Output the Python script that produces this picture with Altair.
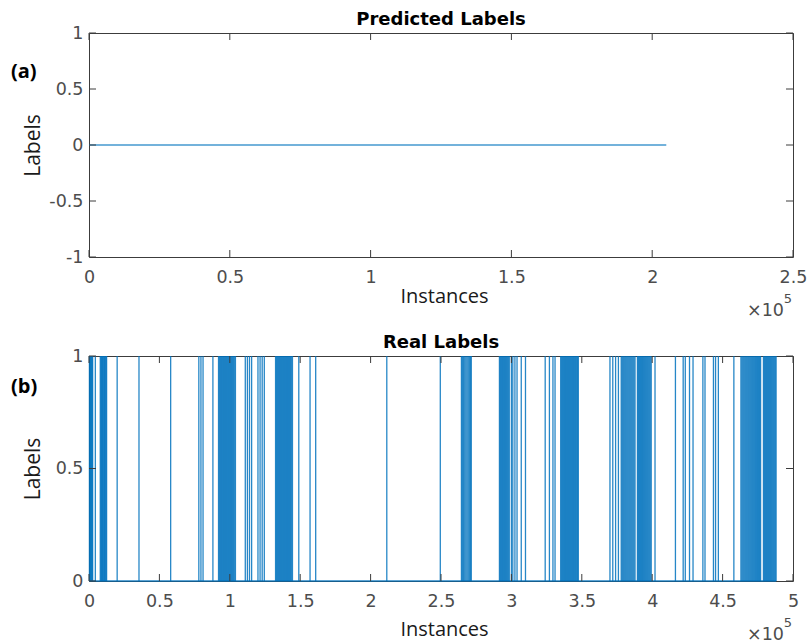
import altair as alt
import pandas as pd

# ---------------- data (x in thousands of instances) ----------------
pred_x = [0, 205]
pred_y = [0, 0]

real_spikes = [
    0.3, 0.8, 1.2, 1.7, 2.2, 2.6, 4.5,
    8.0, 8.5, 9.0, 9.5, 10.0, 10.5, 11.0, 11.5, 12.0, 12.5,
    20.0, 35.5, 58.0, 78.0, 79.5, 81.0, 88.0,
    92.0, 92.7, 93.4, 94.1, 94.8, 95.5, 96.2, 96.9, 97.6, 98.3, 99.0,
    99.7, 100.4, 101.1, 101.8, 102.5, 103.2, 104.0,
    111.0, 112.5, 114.0, 115.5, 120.0, 121.5, 123.0, 124.5,
    132.5, 133.2, 133.9, 134.6, 135.3, 136.0, 136.7, 137.4, 138.1, 138.8,
    139.5, 140.2, 140.9, 141.6, 142.3, 143.0, 143.7, 144.5,
    149.0, 157.0, 161.0,
    211.5, 249.5,
    264.5, 265.3, 266.1, 266.9, 267.7, 268.5, 269.3, 270.1, 270.9, 271.5,
    291.5, 292.2, 292.9, 293.6, 294.3, 295.0, 295.7, 296.4, 297.1, 297.8, 298.5,
    300.0, 301.0, 302.5, 304.0, 307.0, 310.0,
    324.0, 327.0, 329.5, 331.0,
    335.0, 335.7, 336.4, 337.1, 337.8, 338.5, 339.2, 339.9, 340.6, 341.3,
    342.0, 342.7, 343.4, 344.1, 344.8, 345.5, 346.2, 347.0, 347.5,
    370.0, 372.0, 374.0, 376.0,
    378.0, 378.7, 379.4, 380.1, 380.8, 381.5, 382.2, 382.9, 383.6, 384.3,
    385.0, 385.7, 386.4, 387.1, 387.8,
    389.5, 390.2, 390.9, 391.6, 392.3, 393.0, 393.7, 394.4, 395.1, 395.8,
    396.5, 397.2, 397.9, 398.6, 399.3,
    402.0, 416.5, 422.0, 423.5, 426.5, 429.0, 436.0, 437.5,
    443.5, 445.0, 447.0, 458.0,
    463.0, 463.7, 464.4, 465.1, 465.8, 466.5, 467.2, 467.9, 468.6, 469.3,
    470.0, 470.7, 471.4, 472.1, 472.8, 473.5, 474.2, 474.9, 475.6, 476.3, 477.0,
    479.0, 479.7, 480.4, 481.1, 481.8, 482.5, 483.2, 483.9, 484.6, 485.3,
    486.0, 486.7, 487.4, 488.0,
]
real_base_x = [0, 488]
real_base_y = [0, 0]

top_xticks = [0, 50, 100, 150, 200, 250]
top_yticks = [-1, -0.5, 0, 0.5, 1]
bot_xticks = [0, 50, 100, 150, 200, 250, 300, 350, 400, 450, 500]
bot_yticks = [0, 0.5, 1]

# ---------------- style ----------------
W = 704
H1 = 224
H2 = 225
BLUE = "#0072BD"
FRAME = "#3c3c3c"
TICK_LEN = 7
LBL_FONT = "DejaVu Sans"
LBL_SIZE = 17.5
LBL_COLOR = "#4d4d4d"
TXT_FONT = "Open Sans"


def x_axis(values, title_y):
    return alt.Axis(
        values=values, labelExpr="datum.value / 100", ticks=False, domain=False,
        grid=False, labelFont=LBL_FONT, labelFontSize=LBL_SIZE, labelColor=LBL_COLOR,
        labelPadding=11, labelFlush=False, labelOverlap=False,
        title="Instances", titleFont=TXT_FONT, titleFontSize=20,
        titleFontWeight="normal", titleColor="#1a1a1a",
        titleX=W / 2 + 3, titleY=title_y, titleBaseline="alphabetic", titleAlign="center",
    )


def y_axis(values, h):
    return alt.Axis(
        values=values,
        labelExpr="datum.value < 0 ? '-' + abs(datum.value) : '' + datum.value",
        ticks=False, domain=False, grid=False, labelFont=LBL_FONT,
        labelFontSize=LBL_SIZE, labelColor=LBL_COLOR, labelPadding=6,
        labelFlush=False, labelOverlap=False,
        title="Labels", titleFont=TXT_FONT, titleFontSize=21,
        titleFontWeight="normal", titleColor="#1a1a1a", titleAngle=270,
        titleX=-50, titleY=h / 2, titleBaseline="alphabetic", titleAlign="center",
    )


def tick_layers(xticks, yticks, xs, ys, h):
    xt = pd.DataFrame({"v": xticks})
    yt = pd.DataFrame({"v": yticks})
    bottom = alt.Chart(xt).mark_rule(color=FRAME, strokeWidth=1).encode(
        x=alt.X("v:Q", scale=xs), y=alt.value(h), y2=alt.value(h - TICK_LEN))
    top = alt.Chart(xt).mark_rule(color=FRAME, strokeWidth=1).encode(
        x=alt.X("v:Q", scale=xs), y=alt.value(0), y2=alt.value(TICK_LEN))
    left = alt.Chart(yt).mark_rule(color=FRAME, strokeWidth=1).encode(
        y=alt.Y("v:Q", scale=ys), x=alt.value(0), x2=alt.value(TICK_LEN))
    right = alt.Chart(yt).mark_rule(color=FRAME, strokeWidth=1).encode(
        y=alt.Y("v:Q", scale=ys), x=alt.value(W), x2=alt.value(W - TICK_LEN))
    return [bottom, top, left, right]


def annotations(panel_title, letter, letter_y, h):
    ttl = alt.Chart(pd.DataFrame({"t": [panel_title]})).mark_text(
        font="DejaVu Sans", fontSize=18, fontWeight="bold", align="center",
        baseline="alphabetic", color="#000000").encode(
        text="t:N", x=alt.value(W / 2), y=alt.value(-8))
    lab = alt.Chart(pd.DataFrame({"t": [letter]})).mark_text(
        font=TXT_FONT, fontSize=20, fontWeight="bold", align="left",
        baseline="middle", color="#000000").encode(
        text="t:N", x=alt.value(-78), y=alt.value(letter_y))
    times = alt.Chart(pd.DataFrame({"t": ["\u00d710"]})).mark_text(
        font=LBL_FONT, fontSize=LBL_SIZE, align="right", baseline="alphabetic",
        color=LBL_COLOR).encode(text="t:N", x=alt.value(W - 9), y=alt.value(h + 59))
    expo = alt.Chart(pd.DataFrame({"t": ["5"]})).mark_text(
        font=LBL_FONT, fontSize=13, align="right", baseline="alphabetic",
        color=LBL_COLOR).encode(text="t:N", x=alt.value(W - 1), y=alt.value(h + 46))
    return [ttl, lab, times, expo]


# ---------------- top panel ----------------
xs1 = alt.Scale(domain=[0, 250], nice=False, zero=False)
ys1 = alt.Scale(domain=[-1, 1], nice=False, zero=False)
pred_df = pd.DataFrame({"x": pred_x, "y": pred_y})
pred_line = alt.Chart(pred_df).mark_line(color=BLUE, strokeWidth=2, opacity=0.55).encode(
    x=alt.X("x:Q", scale=xs1, axis=x_axis(top_xticks, 45)),
    y=alt.Y("y:Q", scale=ys1, axis=y_axis(top_yticks, H1)),
)
top = alt.layer(
    pred_line, *tick_layers(top_xticks, top_yticks, xs1, ys1, H1),
    *annotations("Predicted Labels", "(a)", 39, H1),
).properties(width=W, height=H1)

# ---------------- bottom panel ----------------
xs2 = alt.Scale(domain=[0, 500], nice=False, zero=False)
ys2 = alt.Scale(domain=[0, 1], nice=False, zero=False)
base_df = pd.DataFrame({"x": real_base_x, "y": real_base_y})
spike_df = pd.DataFrame({"x": real_spikes, "y0": 0, "y1": 1})
base_line = alt.Chart(base_df).mark_line(color=BLUE, strokeWidth=1.4, opacity=0.85).encode(
    x=alt.X("x:Q", scale=xs2, axis=x_axis(bot_xticks, 54)),
    y=alt.Y("y:Q", scale=ys2, axis=y_axis(bot_yticks, H2)),
)
spikes = alt.Chart(spike_df).mark_rule(color=BLUE, strokeWidth=1.3, opacity=0.85).encode(
    x=alt.X("x:Q", scale=xs2), y=alt.Y("y0:Q", scale=ys2), y2="y1:Q",
)
bottom = alt.layer(
    base_line, spikes, *tick_layers(bot_xticks, bot_yticks, xs2, ys2, H2),
    *annotations("Real Labels", "(b)", 31, H2),
).properties(width=W, height=H2)

chart = alt.vconcat(top, bottom, spacing=13).properties(
    padding={"left": 10, "top": 10, "right": 0, "bottom": 0},
    background="#ffffff",
).configure_view(stroke=FRAME, strokeWidth=1)

chart.save("out.html", embed_options={"renderer": "svg", "actions": False})
